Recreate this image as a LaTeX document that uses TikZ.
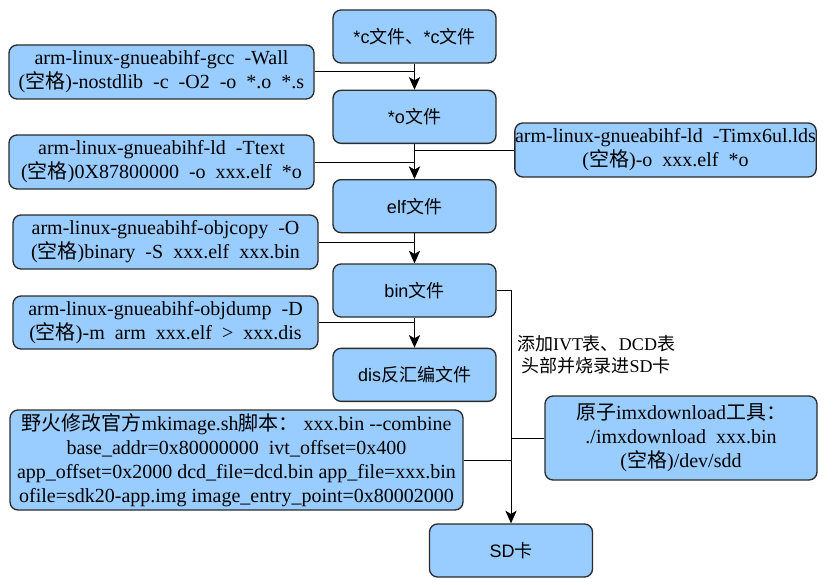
\documentclass[tikz,border=0pt]{standalone}
\usepackage{fontspec}
\setmainfont{Liberation Serif}
\newfontfamily\sansfnt{Liberation Sans}
\newfontfamily\cjk{Noto Sans CJK SC}
\newcommand\zh[1]{{\cjk #1}}
\usetikzlibrary{positioning,arrows.meta}
\definecolor{boxfill}{HTML}{99CCFF}
\definecolor{boxline}{HTML}{2B2B2B}

\begin{document}
\begin{tikzpicture}[
  x=0.75pt,y=-0.75pt,
  file/.style={draw=boxline,fill=boxfill,line width=1pt,rounded corners=6pt,
    minimum width=122.25pt,minimum height=39.75pt,inner sep=0pt,
    font=\sansfnt\fontsize{13.5}{16}\selectfont},
  cmd/.style={draw=boxline,fill=boxfill,line width=1pt,rounded corners=6pt,
    inner sep=0pt,align=center,font=\fontsize{15}{18}\selectfont},
  note/.style={align=center,font=\fontsize{13.5}{16.5}\selectfont},
  link/.style={draw,black,line width=0.75pt}
  ]
  \useasboundingbox (0,0) rectangle (835,585);

  \node[file] (n01) at (414.5,36.5) {*c\zh{文件、}*c\zh{文件}};
  \node[file,below=19.5pt of n01] (n02) {*o\zh{文件}};
  \node[file,below=26.25pt of n02] (n03) {elf\zh{文件}};
  \node[file,below=22.5pt of n03] (n04) {bin\zh{文件}};
  \node[file,below=22.5pt of n04] (n05) {dis\zh{反汇编文件}};
  \node[file,minimum height=39.75pt] (n06) at (511,550.5) {SD\zh{卡}};

  \node[cmd,minimum width=228.75pt,minimum height=40.5pt] (c01) at (161.5,72)
    {arm-linux-gnueabihf-gcc~ -Wall\\(\zh{空格})-nostdlib~ -c~ -O2~ -o~ *.o~ *.s};
  \node[cmd,minimum width=228.75pt,minimum height=40.5pt] (c02) at (161.5,162)
    {arm-linux-gnueabihf-ld~ -Ttext\\(\zh{空格})0X87800000~ -o~ xxx.elf~ *o};
  \node[cmd,minimum width=226pt,minimum height=40.5pt] (c03) at (665.5,150)
    {arm-linux-gnueabihf-ld~ -Timx6ul.lds\\(\zh{空格})-o~ xxx.elf~ *o};
  \node[cmd,minimum width=228.75pt,minimum height=40.5pt] (c04) at (165.5,242)
    {arm-linux-gnueabihf-objcopy~ -O\\(\zh{空格})binary~ -S~ xxx.elf~ xxx.bin};
  \node[cmd,minimum width=228.75pt,minimum height=39.75pt] (c05) at (165.5,322.5)
    {arm-linux-gnueabihf-objdump~ -D\\(\zh{空格})-m~ arm~ xxx.elf~ >~ xxx.dis};
  \node[cmd,minimum width=339.75pt,minimum height=75pt] (c06) at (236.5,460)
    {\zh{野火修改官方}mkimage.sh\zh{脚本：} xxx.bin -{}-combine\\
     base\_addr=0x80000000~ ivt\_offset=0x400\\
     app\_offset=0x2000 dcd\_file=dcd.bin app\_file=xxx.bin\\
     ofile=sdk20-app.img image\_entry\_point=0x80002000};
  \node[cmd,minimum width=204pt,minimum height=63pt] (c07) at (681,438)
    {\zh{原子}imxdownload\zh{工具：}\\./imxdownload~ xxx.bin\\(\zh{空格})/dev/sdd};

  \node[note] (l01) at (596,355)
    {\zh{添加}IVT\zh{表、}DCD\zh{表}\\\zh{头部并烧录进}SD\zh{卡}};

  % side commands join the flow
  \path[link]
  (c01) -- (c01 -| n01)
  (c02) -- (c02 -| n02)
  (c03) -- (c03 -| n02)
  (c04) -- (c04 -| n03)
  (c05) -- (c05 -| n04)
  (c06) -- (c06 -| n06)
  (c07) -- (c07 -| n06);

  \path[link,-{Stealth[length=9.5pt,width=8.5pt,inset=2.5pt]}]
  (n01) edge (n02)
  (n02) edge (n03)
  (n03) edge (n04)
  (n04) edge (n05)
  (n04) -| (n06);
\end{tikzpicture}
\end{document}
